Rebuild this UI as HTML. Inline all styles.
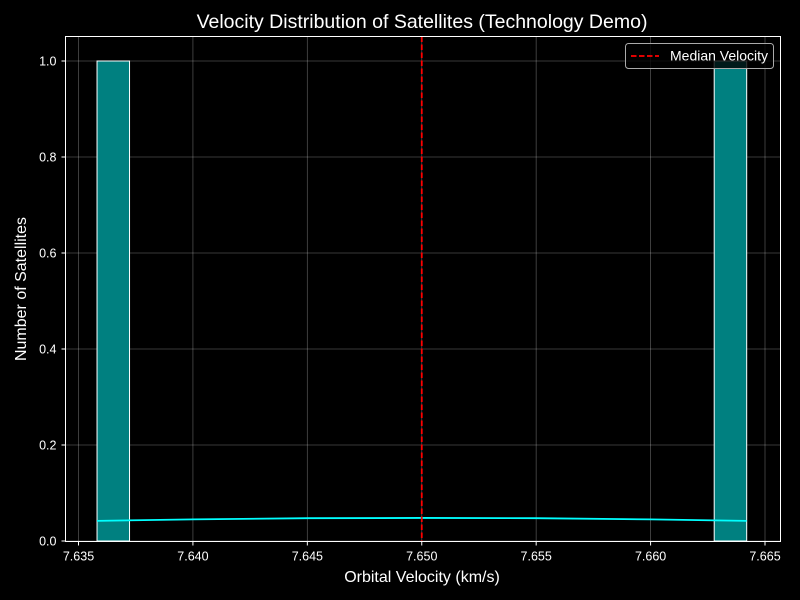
<!DOCTYPE html>
<html><head><meta charset="utf-8"><style>
body{margin:0;background:#000;}
svg{display:block;font-family:"Liberation Sans",sans-serif;}
</style></head><body>
<svg id="chart" width="800" height="600" xmlns="http://www.w3.org/2000/svg">
<rect width="800" height="600" fill="#000"/>
<text x="422" y="28" fill="#fff" font-size="19.5" text-anchor="middle">Velocity Distribution of Satellites (Technology Demo)</text>
<g id="grid"></g>
<g id="bars"></g>
<g id="kde"></g>
<g id="axes"></g>
<text x="422" y="582" fill="#fff" font-size="16" text-anchor="middle">Orbital Velocity (km/s)</text>
<text x="26" y="289" fill="#fff" font-size="16" text-anchor="middle" transform="rotate(-90 26 289)">Number of Satellites</text>
<g>
<rect x="625.5" y="43.5" width="148" height="25" rx="3" fill="#000" fill-opacity="0.8" stroke="#aaa" stroke-width="1"/>
<line x1="631" y1="56" x2="659" y2="56" stroke="#f00" stroke-width="1.8" stroke-dasharray="5.5,2.5"/>
<text x="670" y="60.5" fill="#fff" font-size="14">Median Velocity</text>
</g>
</svg>
<script>
const xTicks=[7.635,7.640,7.645,7.650,7.655,7.660,7.665];
const yTicks=[0,0.2,0.4,0.6,0.8,1.0];
const binStarts=[7.63581,7.66278];
const binWidth=0.00142;
const binCounts=[1,1];
const kdeX=[7.63581,7.640,7.645,7.650,7.655,7.660,7.6642];
const kdeY=[0.042,0.045,0.0475,0.048,0.0475,0.045,0.042];
const median=7.650;

const L=65.5,R=780.5,T=36.5,B=541.5;
const X=v=>78.5+(v-7.635)*(686.5/0.03);
const Y=v=>541-v*480;
const NS="http://www.w3.org/2000/svg";
function mk(tag,attrs,parent){const e=document.createElementNS(NS,tag);for(const k in attrs)e.setAttribute(k,attrs[k]);parent.appendChild(e);return e;}
const grid=document.getElementById('grid'),bars=document.getElementById('bars'),kde=document.getElementById('kde'),axes=document.getElementById('axes');
xTicks.forEach(t=>{
 const gl=mk('line',{x1:X(t),x2:X(t),y1:T,y2:B,stroke:'#fff','stroke-opacity':0.3,'stroke-width':0.8},grid);
 
 const tk=mk('line',{x1:X(t),x2:X(t),y1:B,y2:B+4,stroke:'#fff'},axes);
 
 const tx=mk('text',{x:X(t),y:B+19,fill:'#fff','font-size':12.5,'text-anchor':'middle'},axes);tx.textContent=t.toFixed(3);
 
});
yTicks.forEach(t=>{
 const gl=mk('line',{x1:L,x2:R,y1:Y(t),y2:Y(t),stroke:'#fff','stroke-opacity':0.3,'stroke-width':0.8},grid);
 
 const tk=mk('line',{x1:L-4,x2:L,y1:Y(t),y2:Y(t),stroke:'#fff'},axes);
 
 const tx=mk('text',{x:L-9,y:Y(t)+4.5,fill:'#fff','font-size':12.5,'text-anchor':'end'},axes);tx.textContent=t.toFixed(1);
 
});
binStarts.forEach((s,i)=>{
 const x0=X(s),x1=X(s+binWidth);
 const r=mk('rect',{x:x0,y:Y(binCounts[i]),width:x1-x0,height:Y(0)-Y(binCounts[i]),fill:'#008080',stroke:'#fff','stroke-width':1},bars);
 
});
const p=mk('polyline',{points:kdeX.map((x,i)=>X(x)+','+Y(kdeY[i])).join(' '),fill:'none',stroke:'#00ffff','stroke-width':1.8},kde);

const m=mk('line',{x1:X(median),x2:X(median),y1:T,y2:B,stroke:'#f00','stroke-width':1.8,'stroke-dasharray':'5.5,2.5'},kde);

const fr=mk('rect',{x:L,y:T,width:R-L,height:B-T,fill:'none',stroke:'#fff','stroke-width':1},axes);

</script>
</body></html>
